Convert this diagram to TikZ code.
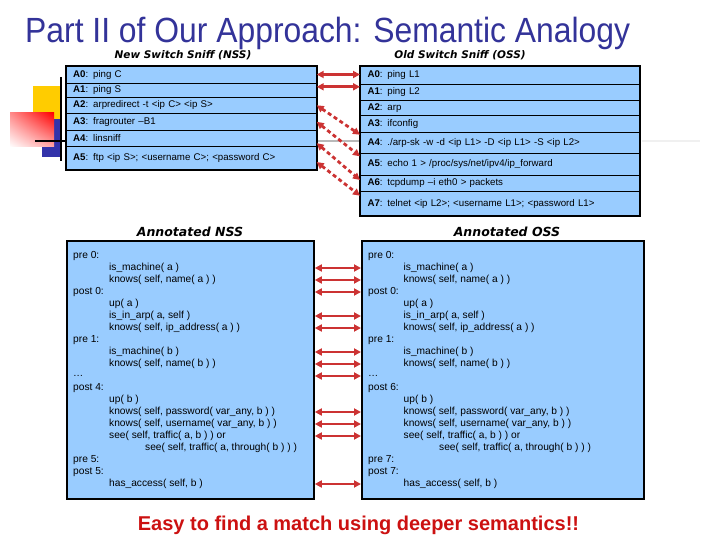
\documentclass[tikz,border=0pt]{standalone}
\usepackage{fontspec}
\setmainfont{Liberation Sans}
\newfontfamily\headfont{DejaVu Sans}
\newfontfamily\titlefont[FakeStretch=0.91]{Liberation Sans}
\usepackage{xcolor}
\usepackage{tikz}
\usetikzlibrary{arrows.meta, positioning, fit, calc, shadings}
\definecolor{titlenavy}{HTML}{333399}
\definecolor{boxblue}{HTML}{99CCFF}
\definecolor{linkred}{HTML}{CC3333}
\definecolor{punchred}{HTML}{CC1111}
\definecolor{decoyellow}{HTML}{FFCC00}
\definecolor{decoblue}{HTML}{3333AA}
\tikzstyle{rowbox} = [rectangle, draw=black, fill=boxblue, line width=0.8pt, outer sep=0pt,
  inner xsep=7.5pt, inner ysep=0pt, align=left, font=\fontsize{9.7}{10}\selectfont]
\tikzstyle{nssrow} = [rowbox, text width=236pt]
\tikzstyle{ossrow} = [rowbox, text width=265pt]
\tikzstyle{frame} = [draw=black, line width=1.8pt, inner sep=0pt]
\tikzstyle{notebox} = [rectangle, draw=black, fill=boxblue, line width=1.8pt, anchor=north west, inner sep=0pt]
\tikzstyle{noteline} = [anchor=west, inner sep=0pt, font=\fontsize{10.2}{11}\selectfont]
\tikzstyle{sublabel} = [font=\headfont\bfseries\itshape\fontsize{10.5}{12}\selectfont]
\tikzstyle{annlabel} = [font=\headfont\bfseries\itshape\fontsize{12.5}{14}\selectfont]
\tikzstyle{linkarrow} = [draw=linkred, line width=2.8pt, {Triangle[length=7pt,width=7pt]}-{Triangle[length=7pt,width=7pt]}]
\tikzstyle{dasharrow} = [linkarrow, dash pattern=on 4pt off 3pt]

\begin{document}
\begin{tikzpicture}[x=1pt, y=-1pt, node distance=0pt]
  \useasboundingbox (0,0) rectangle (720,540);

  % slide decoration
  \fill[decoyellow] (33,86) rectangle (62,119);
  \fill[decoblue] (42,119) rectangle (62,157);
  \shade[upper left=red!45, upper right=red, lower left=white, lower right=red!35] (10,113) rectangle (54,147);
  \draw[black, line width=2.5pt] (61,77) -- (61,161);
  \draw[black, line width=2pt] (35,141) -- (65,141);
  \draw[gray!55, line width=2pt] (317,141) -- (360,141);
  \draw[gray!12, line width=1.5pt] (642,141) -- (700,141);

  \node (title) [anchor=base west, inner sep=0pt, text=titlenavy, font=\titlefont\fontsize{35}{38}\selectfont] at (25,43)
    {Part II of Our Approach: Semantic Analogy};

  \node (nsslabel) [sublabel] at (183,55) {New Switch Sniff (NSS)};
  \node (osslabel) [sublabel] at (460,55) {Old Switch Sniff (OSS)};

  % new switch sniff
  \node (nssA0) [nssrow, anchor=north west, minimum height=17.6pt] at (65.7,65.7) {\textbf{A0}: ping C};
  \node (nssA1) [nssrow, minimum height=14pt, below=of nssA0] {\textbf{A1}: ping S};
  \node (nssA2) [nssrow, minimum height=16pt, below=of nssA1] {\textbf{A2}: arpredirect -t <ip C> <ip S>};
  \node (nssA3) [nssrow, minimum height=17pt, below=of nssA2] {\textbf{A3}: fragrouter –B1};
  \node (nssA4) [nssrow, minimum height=15.7pt, below=of nssA3] {\textbf{A4}: linsniff};
  \node (nssA5) [nssrow, minimum height=24pt, below=of nssA4] {\textbf{A5}: ftp <ip S>; <username C>; <password C>};
  \node (nssBox) [frame, fit=(nssA0)(nssA5)] {};

  % old switch sniff
  \node (ossA0) [ossrow, anchor=north west, minimum height=18.3pt] at (360,65.7) {\textbf{A0}: ping L1};
  \node (ossA1) [ossrow, minimum height=16pt, below=of ossA0] {\textbf{A1}: ping L2};
  \node (ossA2) [ossrow, minimum height=15.3pt, below=of ossA1] {\textbf{A2}: arp};
  \node (ossA3) [ossrow, minimum height=17.4pt, below=of ossA2] {\textbf{A3}: ifconfig};
  \node (ossA4) [ossrow, minimum height=20.6pt, below=of ossA3] {\textbf{A4}: ./arp-sk -w -d <ip L1> -D <ip L1> -S <ip L2>};
  \node (ossA5) [ossrow, minimum height=21.7pt, below=of ossA4] {\textbf{A5}: echo 1 > /proc/sys/net/ipv4/ip\_forward};
  \node (ossA6) [ossrow, minimum height=16.7pt, below=of ossA5] {\textbf{A6}: tcpdump –i eth0 > packets};
  \node (ossA7) [ossrow, minimum height=24pt, below=of ossA6] {\textbf{A7}: telnet <ip L2>; <username L1>; <password L1>};
  \node (ossBox) [frame, fit=(ossA0)(ossA7)] {};

  \draw[linkarrow] (nssA0.east) -- (nssA0.east -| ossA0.west);
  \draw[linkarrow] ([yshift=-3.5pt]nssA1.north east) -- ([yshift=-3.5pt]nssA1.north east -| ossA1.west);
  \draw[dasharrow] (nssA2.east) -- ([yshift=-2pt]ossA4.north west);
  \draw[dasharrow] (nssA3.east) -- ([yshift=-3pt]ossA5.north west);
  \draw[dasharrow] ([yshift=-5pt]nssA4.east) -- ([yshift=-5pt]ossA6.north west);
  \draw[dasharrow] ([yshift=-4pt]nssA5.east) -- ([yshift=-4pt]ossA7.north west);

  % annotated versions
  \node (annNSSlabel) [annlabel] at (190,232) {Annotated NSS};
  \node (annOSSlabel) [annlabel] at (507,232) {Annotated OSS};
  \node (annNSS) [notebox, minimum width=247pt, minimum height=258pt] at (66,240) {};
  \node (annOSS) [notebox, minimum width=282pt, minimum height=258pt] at (361,240) {};

  \foreach \ind/\ntxt/\otxt [count=\i from 0] in {
      0/{pre 0:}/{pre 0:},
      1/{is\_machine( a )}/{is\_machine( a )},
      1/{knows( self, name( a ) )}/{knows( self, name( a ) )},
      0/{post 0:}/{post 0:},
      1/{up( a )}/{up( a )},
      1/{is\_in\_arp( a, self )}/{is\_in\_arp( a, self )},
      1/{knows( self, ip\_address( a ) )}/{knows( self, ip\_address( a ) )},
      0/{pre 1:}/{pre 1:},
      1/{is\_machine( b )}/{is\_machine( b )},
      1/{knows( self, name( b ) )}/{knows( self, name( b ) )},
      0/{\dots}/{\dots},
      0/{post 4:}/{post 6:},
      1/{up( b )}/{up( b )},
      1/{knows( self, password( var\_any, b ) )}/{knows( self, password( var\_any, b ) )},
      1/{knows( self, username( var\_any, b ) )}/{knows( self, username( var\_any, b ) )},
      1/{see( self, traffic( a, b ) ) or}/{see( self, traffic( a, b ) ) or},
      2/{see( self, traffic( a, through( b ) ) )}/{see( self, traffic( a, through( b ) ) )},
      0/{pre 5:}/{pre 7:},
      0/{post 5:}/{post 7:},
      1/{has\_access( self, b )}/{has\_access( self, b )}} {
    \node (nssL\i) [noteline] at ({73+36*\ind},{256+12*\i}) {\ntxt};
    \node (ossL\i) [noteline] at ({368+35.5*\ind},{256+12*\i}) {\otxt};
  }

  \foreach \i in {1,2,3,5,6,8,9,10,13,14,15,19}
    \draw[linkarrow] (nssL\i -| annNSS.east) -- (ossL\i -| annOSS.west);

  \node (punchline) [text=punchred, font=\bfseries\fontsize{20}{22}\selectfont] at (358.5,525)
    {Easy to find a match using deeper semantics!!};
\end{tikzpicture}
\end{document}
